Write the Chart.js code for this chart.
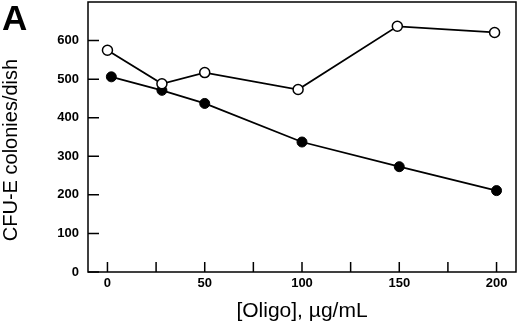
<!DOCTYPE html>
<html>
<head>
<meta charset="utf-8">
<script src="https://cdn.jsdelivr.net/npm/chart.js@4/dist/chart.umd.min.js"></script>
<style>
  body{margin:0;background:#fff;}
  #wrap{position:relative;width:520px;height:328px;}
  #panel{position:absolute;left:2px;top:-2px;font:bold 35px "Liberation Sans",Arial,sans-serif;color:#000;}
</style>
</head>
<body>
<div id="wrap">
  <canvas id="chart" width="520" height="328"></canvas>
  <div id="panel">A</div>
</div>
<script>
const openX=[0,28,50,98,149,199];
const openY=[575,488,517,473,637,621];
const filledX=[2,28,50,100,150,200];
const filledY=[506,471,437,337,273,211];
const xTicks=[0,25,50,75,100,125,150,175,200];
const yTicks=[0,100,200,300,400,500,600];
const xLabels=[0,50,100,150,200];
const yTitle='CFU-E colonies/dish';

const font='"Liberation Sans", Arial, sans-serif';

const toPoints=(xs,ys)=>xs.map((x,i)=>({x:x,y:ys[i]}));

// frame, inward ticks and the y title (sits a bit low in the original)
const framePlugin={
  id:'frame',
  afterDraw(chart){
    const {ctx,chartArea,scales}=chart;
    ctx.save();
    ctx.strokeStyle='#000';
    ctx.lineWidth=1.5;
    ctx.strokeRect(chartArea.left,chartArea.top,chartArea.right-chartArea.left,chartArea.bottom-chartArea.top);
    ctx.beginPath();
    xTicks.forEach((v)=>{
      const px=scales.x.getPixelForValue(v);
      ctx.moveTo(px,chartArea.bottom);
      ctx.lineTo(px,chartArea.bottom-10);
    });
    yTicks.forEach((v)=>{
      const py=scales.y.getPixelForValue(v);
      ctx.moveTo(chartArea.left,py);
      ctx.lineTo(chartArea.left+11,py);
    });
    ctx.stroke();

    ctx.translate(11,150);
    ctx.rotate(-Math.PI/2);
    ctx.fillStyle='#000';
    ctx.font='20px '+font;
    ctx.textAlign='center';
    ctx.textBaseline='middle';
    ctx.fillText(yTitle,0,0);
    ctx.restore();
  }
};

const noPad=(scale)=>{
  scale.paddingTop=0;scale.paddingBottom=0;scale.paddingLeft=0;scale.paddingRight=0;
};

new Chart(document.getElementById('chart'),{
  type:'scatter',
  data:{
    datasets:[
      {
        data:toPoints(openX,openY),
        showLine:true,
        borderColor:'#000',
        borderWidth:1.8,
        pointRadius:5,
        pointBackgroundColor:'#fff',
        pointBorderColor:'#000',
        pointBorderWidth:1.5,
        order:1
      },
      {
        data:toPoints(filledX,filledY),
        showLine:true,
        borderColor:'#000',
        borderWidth:1.8,
        pointRadius:5,
        pointBackgroundColor:'#000',
        pointBorderColor:'#000',
        pointBorderWidth:1,
        order:2
      }
    ]
  },
  options:{
    responsive:false,
    animation:false,
    layout:{autoPadding:false,padding:{top:2,right:4,left:0,bottom:0}},
    plugins:{legend:{display:false},tooltip:{enabled:false}},
    scales:{
      x:{
        type:'linear',
        min:-10,max:210,
        afterBuildTicks:(scale)=>{scale.ticks=xLabels.map(v=>({value:v}));},
        afterFit:(scale)=>{scale.height=56;noPad(scale);},
        grid:{display:false,drawTicks:false},
        border:{display:false},
        ticks:{color:'#000',font:{family:font,size:13,weight:'bold'},padding:4,maxRotation:0},
        title:{display:true,text:'[Oligo], µg/mL',color:'#000',font:{family:font,size:21},padding:{top:11}}
      },
      y:{
        min:0,max:700,
        afterBuildTicks:(scale)=>{scale.ticks=yTicks.map(v=>({value:v}));},
        afterFit:(scale)=>{scale.width=88;noPad(scale);},
        grid:{display:false,drawTicks:false},
        border:{display:false},
        ticks:{color:'#000',font:{family:font,size:13,weight:'bold'},padding:9}
      }
    }
  },
  plugins:[framePlugin]
});
</script>
</body>
</html>
